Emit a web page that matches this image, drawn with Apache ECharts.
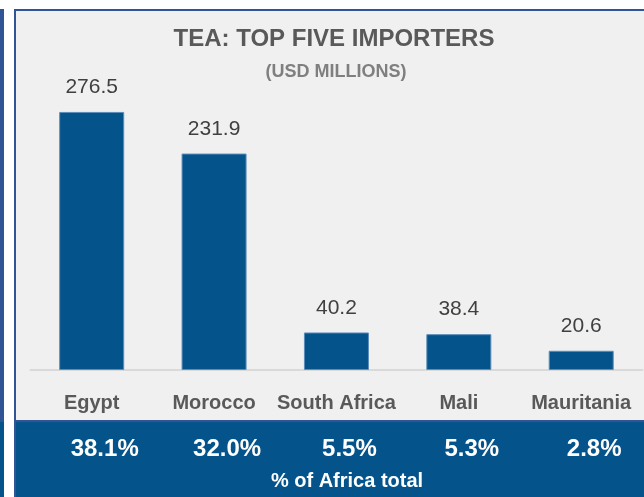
<!DOCTYPE html>
<html>
<head>
<meta charset="utf-8">
<title>Tea: top five importers</title>
<script src="https://cdn.jsdelivr.net/npm/echarts@6/dist/echarts.min.js"></script>
<style>
  html, body { margin: 0; padding: 0; background: #ffffff; }
  #chart { width: 644px; height: 497px; }
</style>
</head>
<body>
<div id="chart"></div>
<script>
// Tea imports, top five African importers (USD millions)
const categories = ['Egypt', 'Morocco', 'South Africa', 'Mali', 'Mauritania'];
const importValues = [276.5, 231.9, 40.2, 38.4, 20.6];
const shareOfAfrica = ['38.1%', '32.0%', '5.5%', '5.3%', '2.8%'];

const titleText = 'TEA: TOP FIVE IMPORTERS';
const subtitleText = '(USD MILLIONS)';
const footerText = '% of Africa total';

const FONT = '"Liberation Sans", Arial, sans-serif';
const NAVY = '#04538a';
const FRAME = '#2f5597';

const chart = echarts.init(document.getElementById('chart'), null, { renderer: 'canvas' });

chart.setOption({
  backgroundColor: '#ffffff',
  animation: false,
  textStyle: { fontFamily: FONT },
  graphic: [
    // neighbouring panel edge on the far left
    { type: 'rect', z: -10, silent: true, shape: { x: 0, y: 9, width: 4, height: 413 }, style: { fill: FRAME } },
    { type: 'rect', z: -10, silent: true, shape: { x: 0, y: 422, width: 4, height: 75 }, style: { fill: NAVY } },
    // framed panel
    { type: 'rect', z: -10, silent: true, shape: { x: 15, y: 10, width: 640, height: 500 },
      style: { fill: '#f0f0f0', stroke: FRAME, lineWidth: 2 } },
    // share band
    { type: 'rect', z: -9, silent: true, shape: { x: 16, y: 422, width: 640, height: 80 }, style: { fill: NAVY } },
    { type: 'rect', z: -9, silent: true, shape: { x: 16, y: 420, width: 640, height: 2 }, style: { fill: FRAME } },
    // titles
    { type: 'text', z: 10, silent: true, x: 334, y: 39,
      style: { text: titleText, fill: '#595959', font: 'bold 24px ' + FONT, textAlign: 'center', textVerticalAlign: 'middle' } },
    { type: 'text', z: 10, silent: true, x: 336, y: 72,
      style: { text: subtitleText, fill: '#7f7f7f', font: 'bold 18px ' + FONT, textAlign: 'center', textVerticalAlign: 'middle' } },
    { type: 'text', z: 10, silent: true, x: 347, y: 481,
      style: { text: footerText, fill: '#ffffff', font: 'bold 20px ' + FONT, textAlign: 'center', textVerticalAlign: 'middle' } }
  ],
  grid: { left: 30.5, right: 1.6, top: 90, bottom: 127, containLabel: false },
  xAxis: [
    {
      type: 'category',
      data: categories,
      position: 'bottom',
      axisLine: { show: true, lineStyle: { color: '#d9d9d9', width: 2 } },
      axisTick: { show: false },
      axisLabel: { margin: 23, color: '#595959', fontSize: 20, fontWeight: 'bold', fontFamily: FONT, interval: 0 }
    },
    {
      type: 'category',
      data: categories,
      position: 'bottom',
      offset: 56,
      axisLine: { show: false },
      axisTick: { show: false },
      axisLabel: {
        margin: 11, color: '#ffffff', fontSize: 24, fontWeight: 'bold', fontFamily: FONT, interval: 0,
        padding: [0, 0, 0, 26],
        formatter: (value, index) => shareOfAfrica[index]
      }
    }
  ],
  yAxis: {
    type: 'value',
    min: 0,
    max: 300,
    show: false,
    splitLine: { show: false }
  },
  series: [{
    type: 'bar',
    data: importValues,
    barWidth: 65,
    itemStyle: { color: NAVY, borderColor: '#5b8dbb', borderWidth: 1 },
    label: {
      show: true,
      position: 'top',
      distance: 14,
      color: '#404040',
      fontSize: 21,
      fontFamily: FONT,
      formatter: p => p.value.toFixed(1)
    }
  }]
});
</script>
</body>
</html>
